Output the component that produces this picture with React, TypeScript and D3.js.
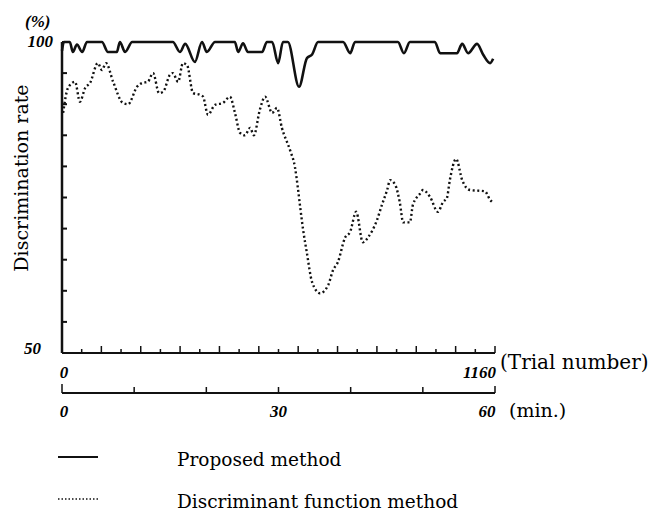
import React from 'react';
import * as d3 from 'd3';

// Proposed method (solid line): trial number -> discrimination rate (%)
const proposedTrials = [0, 5, 21, 29, 40, 54, 67, 107, 123, 147, 155, 169, 188, 297, 316, 330, 356, 375, 388, 410, 463, 472, 485, 498, 536, 549, 563, 579, 592, 605, 635, 656, 670, 686, 753, 772, 785, 900, 916, 932, 999, 1013, 1058, 1072, 1088, 1112, 1128, 1147, 1155];
const proposedRates = [98.6, 100, 100, 98.4, 99.6, 98.4, 100, 100, 98.4, 98.4, 100, 98.4, 100, 100, 98.4, 99.7, 96.8, 100, 98.4, 100, 100, 98.4, 99.8, 98.4, 98.4, 100, 100, 96.6, 100, 100, 92.8, 97.4, 98, 100, 100, 98.2, 100, 100, 98.2, 100, 100, 98.2, 98.2, 99.7, 98.2, 99.7, 98, 96.6, 97.3];

// Discriminant function method (dotted line)
const discTrials = [3, 16, 35, 48, 62, 75, 96, 107, 118, 137, 163, 177, 201, 214, 230, 244, 260, 271, 289, 297, 311, 324, 335, 351, 370, 378, 391, 410, 431, 450, 463, 477, 490, 504, 514, 530, 544, 563, 576, 589, 611, 624, 632, 638, 646, 656, 670, 691, 713, 726, 739, 758, 772, 788, 806, 820, 844, 857, 871, 879, 893, 905, 914, 932, 940, 959, 967, 986, 1007, 1021, 1031, 1039, 1056, 1072, 1093, 1133, 1147, 1152];
const discRates = [88.6, 92.6, 93.6, 90.4, 92.6, 93.4, 96.6, 95.5, 96.6, 93.6, 90.2, 90.0, 92.8, 93.4, 93.6, 95.0, 91.8, 92.0, 94.7, 95.0, 93.6, 96.6, 96.3, 91.8, 91.5, 91.2, 88.3, 89.9, 90.2, 91.2, 88.7, 85.4, 85.0, 86.2, 85.0, 89.1, 91.2, 88.6, 89.4, 86.2, 82.6, 79.9, 76.5, 73.5, 69.8, 66.1, 61.4, 59.6, 60.9, 63.3, 64.6, 68.5, 69.5, 72.7, 67.8, 68.6, 71.4, 73.8, 76.2, 77.8, 77.0, 74.2, 71.0, 71.0, 73.8, 75.6, 76.2, 75.1, 72.7, 74.3, 74.9, 77.8, 81.2, 77.8, 76.2, 76.0, 74.6, 74.3];

const yTicks = [55, 60, 65, 70, 75, 80, 85, 90, 95];
const trialMax = 1160;
const trialTickCount = 22;
const minuteTicks = [10, 20, 30, 40, 50];
const minuteLabels = [0, 30, 60];

const serif = '"DejaVu Serif", serif';
const numFont = '"Liberation Serif", serif';

export default function App() {
  const x = d3.scaleLinear().domain([0, trialMax]).range([62, 495]);
  const xm = d3.scaleLinear().domain([0, 60]).range([62, 495]);
  const y = d3.scaleLinear().domain([50, 100]).range([353, 42]);
  const minAxisY = 393;

  const line = d3.line<[number, number]>()
    .x(d => x(d[0]))
    .y(d => y(d[1]))
    .curve(d3.curveMonotoneX);

  const proposed = proposedTrials.map((t, i) => [t, proposedRates[i]] as [number, number]);
  const disc = discTrials.map((t, i) => [t, discRates[i]] as [number, number]);

  const trialTicks = d3.range(1, trialTickCount).map(k => (k * trialMax) / trialTickCount);

  return (
    <svg width={665} height={521} style={{ position: 'absolute', left: 0, top: 0, background: '#fff' }}>
      {/* y axis */}
      <line x1={x(0)} x2={x(0)} y1={y(100)} y2={y(50)} stroke="#111" strokeWidth={2.5} />
      {yTicks.map(v => (
        <line key={v} x1={x(0)} x2={x(0) + 5} y1={y(v)} y2={y(v)} stroke="#111" strokeWidth={2} />
      ))}
      <line x1={x(0)} x2={x(0) + 5} y1={y(100)} y2={y(100)} stroke="#111" strokeWidth={2} />
      <text x={53} y={47} textAnchor="end" fontFamily={numFont} fontStyle="italic" fontWeight="bold" fontSize={17}>100</text>
      <text x={41} y={354} textAnchor="end" fontFamily={numFont} fontStyle="italic" fontWeight="bold" fontSize={17}>50</text>
      <text x={25} y={27} fontFamily={numFont} fontStyle="italic" fontWeight="bold" fontSize={17}>(%)</text>
      <text transform="translate(28,178) rotate(-90)" textAnchor="middle" fontFamily={serif} fontSize={19}>Discrimination rate</text>

      {/* trial number axis */}
      <line x1={x(0)} x2={x(trialMax)} y1={y(50)} y2={y(50)} stroke="#111" strokeWidth={2} />
      {trialTicks.map((t, k) => (
        <line key={t} x1={x(t)} x2={x(t)} y1={y(50)} y2={y(50) - ((k + 1) % 2 === 0 ? 7 : 4)} stroke="#111" strokeWidth={1.5} />
      ))}
      <line x1={x(trialMax)} x2={x(trialMax)} y1={y(50)} y2={y(50) - 7} stroke="#111" strokeWidth={1.5} />
      <text x={x(0) + 2} y={378} textAnchor="middle" fontFamily={numFont} fontStyle="italic" fontWeight="bold" fontSize={17}>0</text>
      <text x={496} y={378} textAnchor="end" fontFamily={numFont} fontStyle="italic" fontWeight="bold" fontSize={17}>{trialMax}</text>
      <text x={500} y={369} fontFamily={serif} fontSize={20}>(Trial number)</text>

      {/* minutes axis */}
      <line x1={xm(0)} x2={xm(60)} y1={minAxisY} y2={minAxisY} stroke="#111" strokeWidth={2} />
      {minuteTicks.map(m => (
        <line key={m} x1={xm(m)} x2={xm(m)} y1={minAxisY} y2={minAxisY - 6} stroke="#111" strokeWidth={1.5} />
      ))}
      <line x1={xm(0)} x2={xm(0)} y1={minAxisY} y2={minAxisY - 9} stroke="#111" strokeWidth={1.5} />
      <line x1={xm(60)} x2={xm(60)} y1={minAxisY} y2={minAxisY - 7} stroke="#111" strokeWidth={1.5} />
      {minuteLabels.map(m => (
        <text key={m} x={m === 60 ? xm(m) - 8 : m === 0 ? xm(m) + 2 : xm(m)} y={417} textAnchor="middle" fontFamily={numFont} fontStyle="italic" fontWeight="bold" fontSize={17}>{m}</text>
      ))}
      <text x={509} y={417} fontFamily={serif} fontSize={19}>(min.)</text>

      {/* series */}
      <path d={line(proposed) ?? ''} fill="none" stroke="#111" strokeWidth={2.6} strokeLinejoin="round" />
      <path d={line(disc) ?? ''} fill="none" stroke="#111" strokeWidth={2.4} strokeDasharray="2 2.6" />

      {/* legend */}
      <line x1={58} x2={98} y1={457} y2={457} stroke="#111" strokeWidth={2} />
      <text x={177} y={466} fontFamily={serif} fontSize={18.5}>Proposed method</text>
      <line x1={58} x2={98} y1={499} y2={499} stroke="#111" strokeWidth={1.6} strokeDasharray="1.5 2" />
      <text x={177} y={508} fontFamily={serif} fontSize={18.5}>Discriminant function method</text>
    </svg>
  );
}
